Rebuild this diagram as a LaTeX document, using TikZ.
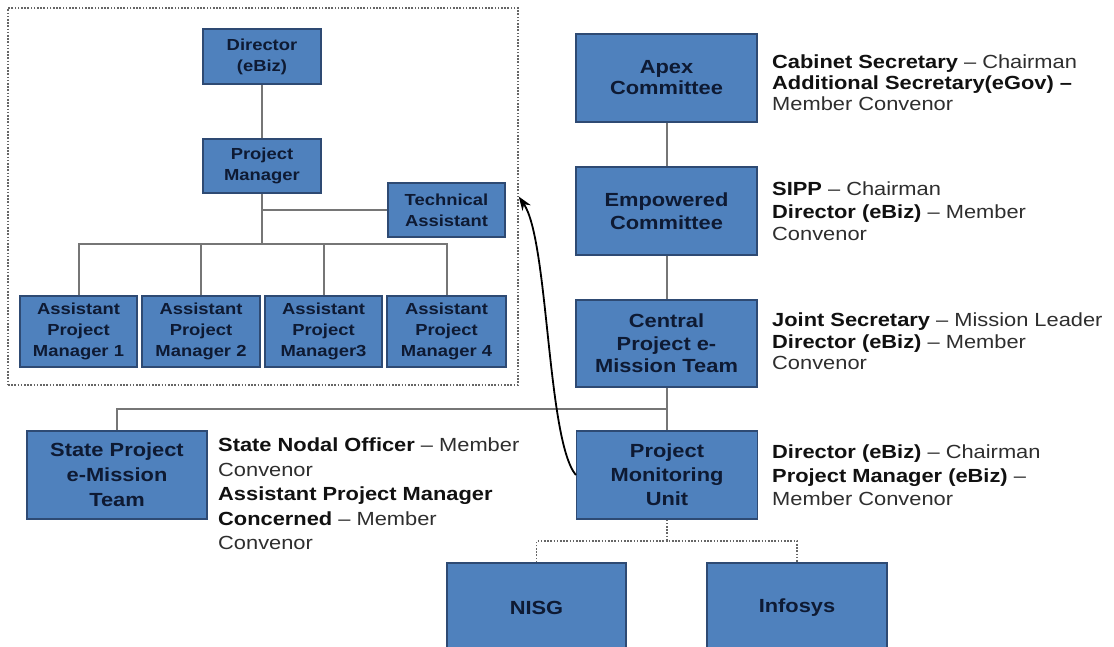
\documentclass[tikz,border=0pt]{standalone}
\usepackage{fontspec}
\setmainfont{Liberation Sans}[FakeStretch=1.15]
\usetikzlibrary{arrows.meta}
\definecolor{boxfill}{HTML}{4F81BD}
\definecolor{boxline}{HTML}{2E4A73}
\definecolor{boxtext}{HTML}{0E1A33}
\definecolor{conn}{HTML}{767676}
\definecolor{desc}{HTML}{2E2E2E}
\definecolor{descb}{HTML}{111111}
\newcommand{\bx}[1]{\textbf{\color{descb}#1}}
\begin{document}
\begin{tikzpicture}[x=1pt,y=-1pt,
  blk/.style={draw=boxline, fill=boxfill, line width=1.3pt, inner sep=0pt, align=center,
    text=boxtext, font=\bfseries\fontsize{19}{#1}\selectfont},
  blk/.default=22,
  sblk/.style={draw=boxline, fill=boxfill, line width=1.3pt, inner sep=0pt, align=center,
    text=boxtext, font=\bfseries\fontsize{16}{21}\selectfont},
  dsc/.style={anchor=north west, inner sep=0pt, align=left, text=desc,
    font=\fontsize{19}{#1}\selectfont},
  conline/.style={draw=conn, line width=2pt},
  dotline/.style={draw=black!60, line width=1.5pt, dash pattern=on 1.6pt off 1.6pt},
  frame/.style={draw=black!60, line width=1.4pt, dash pattern=on 1.6pt off 1.6pt, inner sep=0pt},
  arr/.style={draw=black, line width=1.8pt, -{Stealth[length=14pt,width=10pt]}}
]
\clip (0,0) rectangle (1114,647);
\fill[white] (0,0) rectangle (1114,647);

% ---- left group ----
\node[frame, minimum width=510pt, minimum height=377pt] (grp) at (263,196.5) {};
\node[sblk, minimum width=118pt, minimum height=55pt] (dir) at (262,56.5) {Director\\(eBiz)};
\node[sblk, minimum width=118pt, minimum height=54pt] (pm) at (262,166) {Project\\Manager};
\node[sblk, minimum width=117pt, minimum height=54pt] (ta) at (446.5,210) {Technical\\Assistant};
\node[sblk, minimum width=117pt, minimum height=71pt] (apm1) at (78.5,331.5) {Assistant\\Project\\Manager 1};
\node[sblk, minimum width=118pt, minimum height=71pt] (apm2) at (201,331.5) {Assistant\\Project\\Manager 2};
\node[sblk, minimum width=117pt, minimum height=71pt] (apm3) at (323.5,331.5) {Assistant\\Project\\Manager3};
\node[sblk, minimum width=119pt, minimum height=71pt] (apm4) at (446.5,331.5) {Assistant\\Project\\Manager 4};
\coordinate (bus) at (262,244);
\draw[conline] (dir.south) -- (pm.north);
\draw[conline] (pm.south) -- (bus);
\draw[conline] (pm.south |- ta.west) -- (ta.west);
\draw[conline] (apm1.north) |- (bus) -| (apm4.north);
\draw[conline] (apm2.north) -- (apm2.north |- bus);
\draw[conline] (apm3.north) -- (apm3.north |- bus);

% ---- right column ----
\node[blk=21, minimum width=181pt, minimum height=88pt] (apex) at (666.5,78) {Apex\\Committee};
\node[blk=23, minimum width=181pt, minimum height=88pt] (emp) at (666.5,211) {Empowered\\Committee};
\node[blk=22.5, minimum width=181pt, minimum height=87pt] (cpmt) at (666.5,343.5) {Central\\Project e-\\Mission Team};
\node[blk=24, minimum width=181pt, minimum height=88pt] (pmu) at (667,475) {Project\\Monitoring\\Unit};
\node[blk=25, minimum width=180pt, minimum height=88pt] (spmt) at (117,475) {State Project\\e-Mission\\Team};
\node[blk, minimum width=179pt, minimum height=90pt] (nisg) at (536.5,608) {NISG};
\node[blk, minimum width=180pt, minimum height=90pt] (infy) at (797,608) {Infosys};

\draw[conline] (apex.south) -- (emp.north);
\draw[conline] (emp.south) -- (cpmt.north);
\draw[conline] (cpmt.south) -- (cpmt.south |- pmu.north);
\coordinate (rbus) at (667,409);
\draw[conline] (spmt.north) |- (rbus);

\coordinate (dj) at (667,541);
\draw[dotline] (pmu.south) -- (dj);
\draw[dotline] (nisg.north) |- (dj) -| (infy.north);

% ---- descriptions ----
\node[dsc=21] (dapex) at (772,55) {\bx{Cabinet Secretary} – Chairman\\\bx{Additional Secretary(eGov) –}\\Member Convenor};
\node[dsc=22.5] (demp) at (772,182) {\bx{SIPP} – Chairman\\\bx{Director (eBiz)} – Member\\Convenor};
\node[dsc=21.5] (dcpmt) at (772,313) {\bx{Joint Secretary} – Mission Leader\\\bx{Director (eBiz)} – Member\\Convenor};
\node[dsc=23.5] (dpmu) at (772,445) {\bx{Director (eBiz)} – Chairman\\\bx{Project Manager (eBiz)} –\\Member Convenor};
\node[dsc=24.5] (dspmt) at (218,438) {\bx{State Nodal Officer} – Member\\Convenor\\\bx{Assistant Project Manager}\\\bx{Concerned} – Member\\Convenor};

% ---- curved arrow ----
\draw[arr] (pmu.west) .. controls +(-29,-35) and +(30,43.5) .. (grp.east);
\end{tikzpicture}
\end{document}
